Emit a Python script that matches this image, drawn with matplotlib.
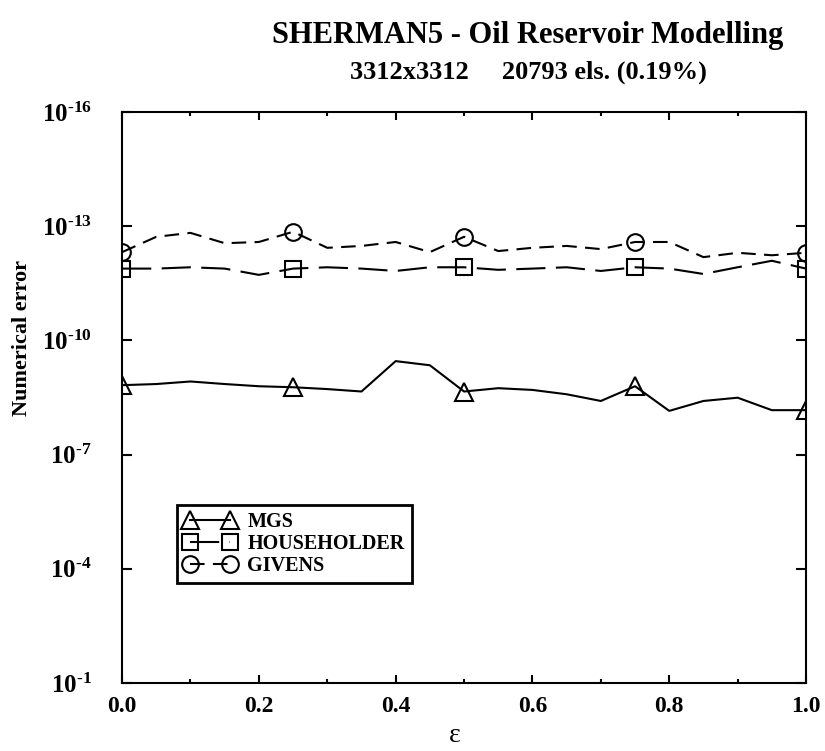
import matplotlib
matplotlib.use("Agg")
import matplotlib.pyplot as plt
from matplotlib.ticker import FixedLocator, NullLocator, FuncFormatter
import numpy as np

plt.rcParams['font.family'] = ['Liberation Serif', 'DejaVu Serif']
plt.rcParams['font.weight'] = 'bold'
plt.rcParams['mathtext.fontset'] = 'custom'
plt.rcParams['mathtext.rm'] = 'Liberation Serif:bold'
plt.rcParams['mathtext.bf'] = 'Liberation Serif:bold'
plt.rcParams['mathtext.it'] = 'Liberation Serif:bold:italic'

# epsilon sweep, 0.00 .. 1.00 step 0.05
eps = [0.00, 0.05, 0.10, 0.15, 0.20, 0.25, 0.30, 0.35, 0.40, 0.45, 0.50,
       0.55, 0.60, 0.65, 0.70, 0.75, 0.80, 0.85, 0.90, 0.95, 1.00]

mgs = [1.5e-9, 1.4e-9, 1.2e-9, 1.4e-9, 1.6e-9, 1.7e-9, 1.9e-9, 2.2e-9,
       3.5e-10, 4.5e-10, 2.2e-9, 1.8e-9, 2.0e-9, 2.6e-9, 3.9e-9, 1.6e-9,
       7.1e-9, 3.9e-9, 3.2e-9, 6.8e-9, 6.8e-9]

householder = [1.3e-12, 1.3e-12, 1.2e-12, 1.3e-12, 1.9e-12, 1.3e-12, 1.2e-12,
               1.3e-12, 1.5e-12, 1.2e-12, 1.2e-12, 1.4e-12, 1.3e-12, 1.2e-12,
               1.5e-12, 1.2e-12, 1.3e-12, 1.8e-12, 1.2e-12, 8.1e-13, 1.3e-12]

givens = [4.8e-13, 1.9e-13, 1.5e-13, 2.8e-13, 2.6e-13, 1.4e-13, 3.7e-13,
          3.3e-13, 2.6e-13, 4.8e-13, 1.9e-13, 4.5e-13, 3.7e-13, 3.3e-13,
          4.0e-13, 2.6e-13, 2.6e-13, 6.5e-13, 5.0e-13, 5.8e-13, 5.0e-13]

ytick_exp = [-16, -13, -10, -7, -4, -1]
xticks = [0.0, 0.2, 0.4, 0.6, 0.8, 1.0]

fig = plt.figure(figsize=(8.25, 7.51), dpi=100)
ax = fig.add_axes([0.148, 0.0905, 0.829, 0.7604])

lw = 1.5
common = dict(color='black', lw=lw, markevery=5, fillstyle='none', mew=1.5)
ax.plot(eps, mgs, marker='^', ms=13, ls='-', label='MGS', **common)
ax.plot(eps, householder, marker='s', ms=11, ls=(0, (14, 5)),
        label='HOUSEHOLDER', **common)
ax.plot(eps, givens, marker='o', ms=12, ls=(0, (7, 4)),
        label='GIVENS', **common)

ax.set_yscale('log')
ax.set_ylim(1e-1, 1e-16)
ax.set_xlim(0, 1)
ax.yaxis.set_major_locator(FixedLocator([10.0 ** e for e in ytick_exp]))
ax.yaxis.set_minor_locator(NullLocator())
ax.yaxis.set_major_formatter(FuncFormatter(
    lambda v, p: r'$\mathbf{10^{\text{-}%d}}$' % abs(int(round(np.log10(v))))))
ax.set_xticks(xticks)
ax.set_xticks(np.arange(0.1, 1.0, 0.2), minor=True)
ax.xaxis.set_major_formatter(FuncFormatter(lambda v, p: '%.1f' % v))

ax.tick_params(which='both', direction='in', top=True, right=True, width=1.5)
ax.tick_params(axis='x', which='major', length=6, labelsize=17, pad=9)
ax.tick_params(axis='x', which='minor', length=3)
ax.tick_params(axis='y', which='major', length=7, labelsize=18, pad=22)
for lab in ax.get_xticklabels():
    lab.set_fontweight('bold')
for s in ax.spines.values():
    s.set_linewidth(1.5)

fig.text(455 / 825, 1 - 735 / 751, 'ε', fontsize=20, fontweight='normal',
         ha='center', va='center')
fig.text(0.027, 0.55, 'Numerical error', rotation=90, fontsize=16,
         fontweight='bold', ha='center', va='center')

fig.text(0.64, 0.953, 'SHERMAN5 - Oil Reservoir Modelling', fontsize=22,
         fontweight='bold', ha='center', va='center')
fig.text(0.64, 0.904, '3312x3312     20793 els. (0.19%)', fontsize=19,
         fontweight='bold', ha='center', va='center')

leg = ax.legend(loc='upper left', bbox_to_anchor=(0.080, 0.312),
                borderaxespad=0, numpoints=2, handlelength=2.6,
                handletextpad=0.55, fancybox=False, framealpha=1,
                edgecolor='black', prop={'weight': 'bold', 'size': 14.5},
                borderpad=0.35, labelspacing=0.1)
leg.get_frame().set_linewidth(2)

fig.savefig('out.png', dpi=100)
